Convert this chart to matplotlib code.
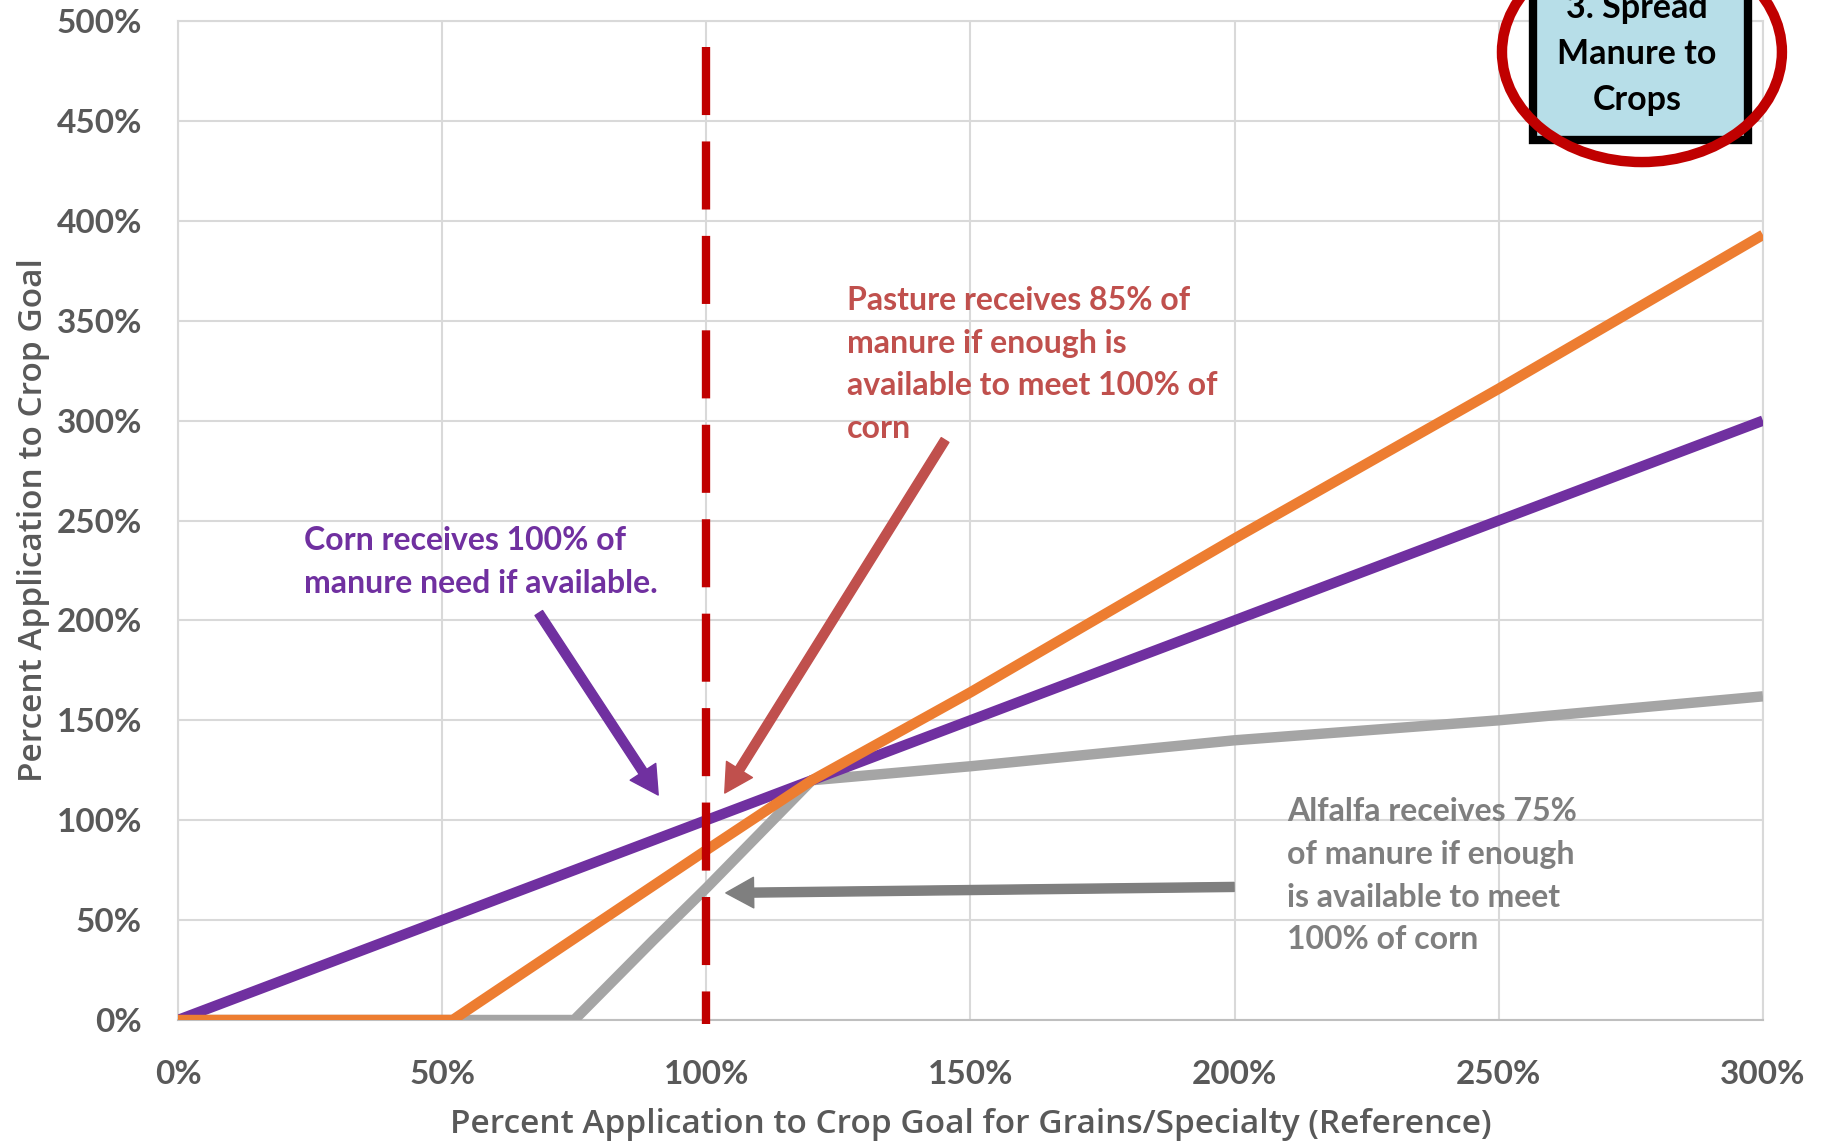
import matplotlib.pyplot as plt
from matplotlib.patches import Ellipse, Rectangle

# values (percent)
corn_x = [0, 100, 200, 300]
corn_y = [0, 100, 200, 300]
pasture_x = [0, 52, 100, 120, 150, 200, 250, 300]
pasture_y = [0, 0, 85, 120, 164, 241, 316, 393]
alfalfa_x = [0, 75, 90, 100, 110, 120, 150, 200, 250, 300]
alfalfa_y = [0, 0, 40, 66, 93, 120, 127, 140, 150, 162]

x_ticks = [0, 50, 100, 150, 200, 250, 300]
y_ticks = [0, 50, 100, 150, 200, 250, 300, 350, 400, 450, 500]

purple = '#7030A0'
orange = '#ED7D31'
gray = '#A5A5A5'
red = '#C00000'
pasture_red = '#C0504D'
text_gray = '#595959'

plt.rcParams['font.family'] = ['Lato', 'DejaVu Sans']
plt.rcParams['lines.scale_dashes'] = False

fig = plt.figure(figsize=(18.25, 11.44), dpi=100)
ax = fig.add_axes([0.0975, 0.1084, 0.8685, 0.8732])

ax.plot(alfalfa_x, alfalfa_y, color=gray, lw=7.5, solid_capstyle='butt', zorder=3)
ax.plot(corn_x, corn_y, color=purple, lw=7.5, solid_capstyle='butt', zorder=4)
ax.plot(pasture_x, pasture_y, color=orange, lw=7.5, solid_capstyle='butt', zorder=5)
ax.plot([100, 100], [487, -2], color=red, lw=6, dashes=(49, 19), zorder=6, clip_on=False)

ax.set_xlim(0, 300)
ax.set_ylim(0, 500)
ax.set_xticks(x_ticks)
ax.set_xticklabels([f'{t}%' for t in x_ticks])
ax.set_yticks(y_ticks)
ax.set_yticklabels([f'{t}%' for t in y_ticks])
ax.tick_params(length=0, labelsize=24, labelcolor=text_gray)
ax.tick_params(axis='x', pad=29)
ax.tick_params(axis='y', pad=26)
for lbl in ax.get_xticklabels() + ax.get_yticklabels():
    lbl.set_fontweight('bold')
ax.grid(True, color='#D9D9D9', lw=1.5)
for s in ax.spines.values():
    s.set_color('#D9D9D9')
    s.set_linewidth(1.5)
ax.spines['bottom'].set_color('#BFBFBF')

ax.set_xlabel('Percent Application to Crop Goal for Grains/Specialty (Reference)',
              fontsize=24, color=text_gray, family='Open Sans', fontweight='semibold')
ax.set_ylabel('Percent Application to Crop Goal', fontsize=24,
              color=text_gray, family='Open Sans', fontweight='semibold')
ax.xaxis.set_label_coords(0.5, -0.088)
ax.yaxis.set_label_coords(-0.081, 0.5)

# annotations
txt = dict(fontsize=23, fontweight='bold', linespacing=1.58, ha='left', va='center')
ax.text(23.8, 229.2, 'Corn receives 100% of\nmanure need if available.', color=purple, **txt)
ax.text(126.6, 328.1, 'Pasture receives 85% of\nmanure if enough is\navailable to meet 100% of\ncorn',
        color=pasture_red, **txt)
ax.text(209.9, 72.3, 'Alfalfa receives 75%\nof manure if enough\nis available to meet\n100% of corn',
        color='#7F7F7F', **txt)

arrow = dict(width=6.5, headwidth=22, headlength=20, shrink=0)
ax.annotate('', xy=(90.9, 112.6), xytext=(68.3, 203.7),
            arrowprops=dict(color=purple, **arrow), zorder=7)
ax.annotate('', xy=(103.5, 113.6), xytext=(145.2, 290.3),
            arrowprops=dict(color=pasture_red, **arrow), zorder=7)
ax.annotate('', xy=(103.7, 63.6), xytext=(199.9, 66.6),
            arrowprops=dict(color='#7F7F7F', **arrow), zorder=7)

# step box in the top right corner
fig.add_artist(Rectangle((0.8400, 0.8776), 0.1178, 0.16, transform=fig.transFigure,
                         facecolor='#B7DEE8', edgecolor='black', lw=6, zorder=10))
fig.text(0.897, 0.9528, '3. Spread\nManure to\nCrops', fontsize=24.5, fontweight='bold',
         ha='center', va='center', linespacing=1.55, color='black', zorder=11)
fig.add_artist(Ellipse((0.8997, 0.9545), 0.1534, 0.1923, transform=fig.transFigure,
                       fill=False, edgecolor=red, lw=7.5, zorder=12))

fig.savefig('out.png', dpi=100)
